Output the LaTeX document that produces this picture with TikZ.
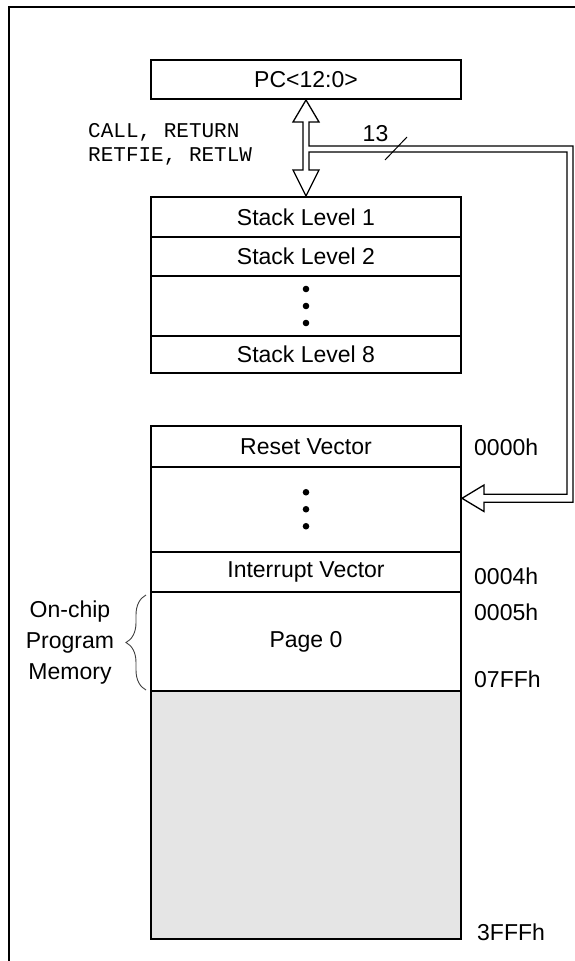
\documentclass[tikz,border=0pt]{standalone}
\usepackage{fontspec}
\setmainfont{Liberation Sans}
\newfontfamily\monofont{Liberation Mono}
\usetikzlibrary{decorations.pathreplacing}
\definecolor{memgray}{RGB}{229,229,229}

\begin{document}
\begin{tikzpicture}[x=1pt, y=-1pt,
    every node/.style={inner sep=2pt},
    cell/.style={draw, line width=2pt, minimum width=310, font=\fontsize{23}{27}\selectfont},
    addr/.style={anchor=west, font=\fontsize{23}{27}\selectfont},
    bus/.style={draw, line width=1.3pt, fill=white, line join=miter}]
    \useasboundingbox (0,0) rectangle (575,961);
    \clip (0,0) rectangle (575,961);
    \draw [black, line width=2pt] (9,7) rectangle (620,1000);
    % program counter and stack
    \node [cell, minimum height=39] (pc) at (306,79.5) {PC<12:0>};
    \node [cell, minimum height=40] (st1) at (306,217) {Stack Level 1};
    \node [cell, minimum height=39] (st2) at (306,256.5) {Stack Level 2};
    \node [cell, minimum height=60] (stdots) at (306,306) {};
    \node [cell, minimum height=37] (st8) at (306,354.5) {Stack Level 8};
    \foreach \d in {-17,0,17}
        \fill [black] ([yshift=\d pt]stdots.center) circle (3.3pt);
    % program memory map
    \node [cell, minimum height=41] (reset) at (306,446.5) {Reset Vector};
    \node [cell, minimum height=84.5] (memdots) at (306,509.25) {};
    \node [cell, minimum height=40.5] (irq) at (306,571.75) {Interrupt Vector};
    \node [cell, minimum height=99] (page0) at (306,641.5) {Page 0};
    \node [cell, minimum height=248, fill=memgray] (rest) at (306,815) {};
    \foreach \d in {-17,0,17}
        \fill [black] ([yshift=\d pt]memdots.center) circle (3.3pt);
    \node [addr] (a0000) at (472,447) {0000h};
    \node [addr] (a0004) at (472,576) {0004h};
    \node [addr] (a0005) at (472,612.5) {0005h};
    \node [addr] (a07ff) at (472,679) {07FFh};
    \node [addr] (a3fff) at (475,932) {3FFFh};
    % bus from PC to stack and memory
    \coordinate (busin) at (462,498.3);
    \draw [bus] (pc.south) -- (319,122) -- (309,122) -- (309,146) -- (573,146)
        -- (573,502.3) -- (484,502.3) -- (484,511.5) -- (busin) -- (484,485)
        -- (484,494.3) -- (567,494.3) -- (567,152) -- (309,152) -- (309,170)
        -- (319,170) -- (st1.north) -- (293,170) -- (303,170) -- (303,122)
        -- (293,122) -- cycle;
    \coordinate (slasha) at (385,160);
    \coordinate (slashb) at (407,137);
    \draw [black, line width=1pt] (slasha) -- (slashb);
    \node [font=\fontsize{23}{27}\selectfont] (width) at (375.5,134) {13};
    \node [anchor=west, font=\monofont\fontsize{21}{24.3}\selectfont, align=left] (ops) at (86,144) {CALL, RETURN\\RETFIE, RETLW};
    % on-chip memory brace
    \draw [black!75, line width=0.9pt, decorate, decoration={brace, amplitude=20pt}] (146,690) -- (146,595);
    \node [font=\fontsize{23}{31}\selectfont, align=center] (onchip) at (70,643) {On-chip\\Program\\Memory};
\end{tikzpicture}
\end{document}
